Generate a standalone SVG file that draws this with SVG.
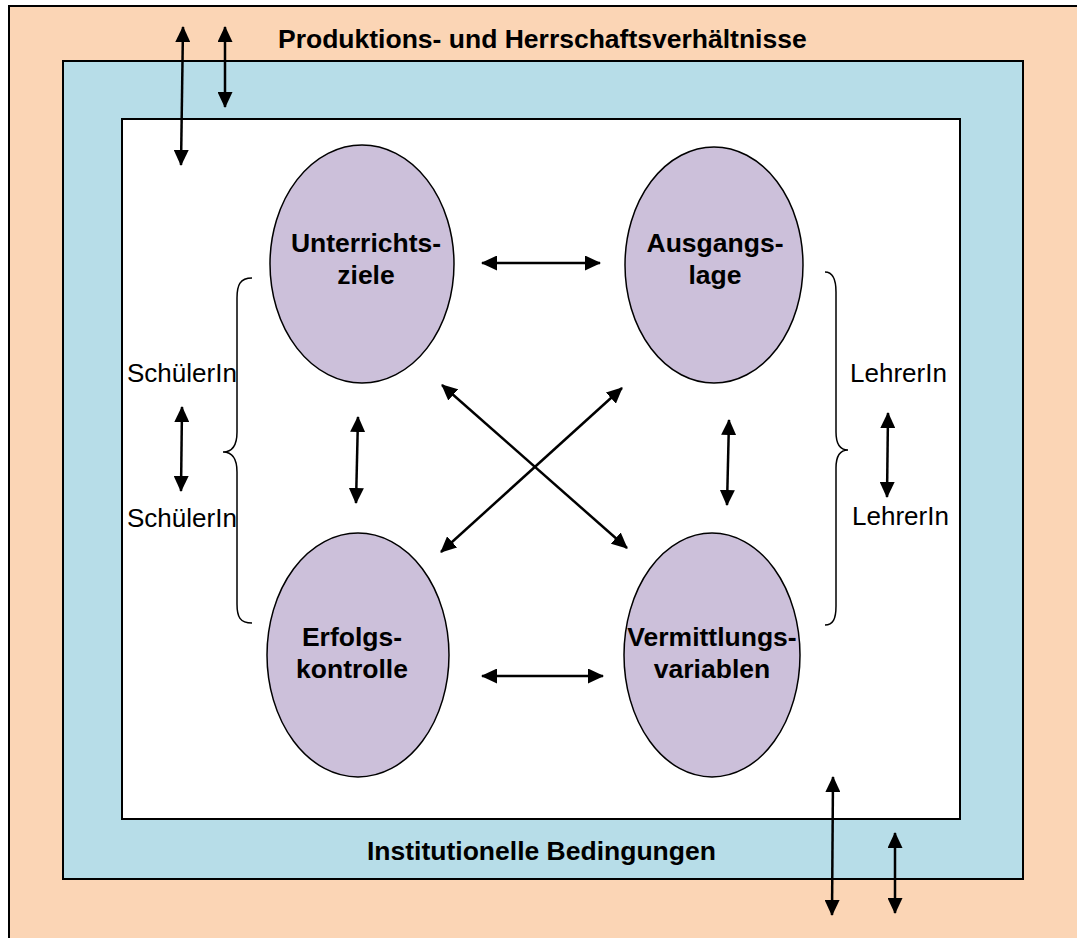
<svg xmlns="http://www.w3.org/2000/svg" width="1077" height="938" viewBox="0 0 1077 938">
<style>
.frame{stroke:#000;stroke-width:2}
.node{fill:#CCC0DA;stroke:#000;stroke-width:1.5}
.lbl{font-family:"Liberation Sans",Arial,sans-serif;font-size:26.5px;font-weight:bold;fill:#000;text-anchor:middle}
.side{font-family:"Liberation Sans",Arial,sans-serif;font-size:26px;fill:#000}
.band{font-family:"Liberation Sans",Arial,sans-serif;font-size:26.5px;font-weight:bold;fill:#000}
.conn{stroke:#000;stroke-width:2.5;fill:none;marker-start:url(#ah);marker-end:url(#ah)}
.brace{stroke:#000;stroke-width:1.5;fill:none}
</style>
<defs>
<marker id="ah" viewBox="0 0 16 15" refX="15" refY="7.5" markerWidth="16" markerHeight="15" markerUnits="userSpaceOnUse" orient="auto-start-reverse">
<path d="M0,0 L16,7.5 L0,15 z" fill="#000"/>
</marker>
</defs>
<g id="background">
<rect x="0" y="0" width="1077" height="938" fill="#fff"/>
<rect class="frame" x="9" y="6" width="1100" height="1000" fill="#FBD5B5"/>
<rect class="frame" x="63" y="61" width="960" height="818" fill="#B7DDE8"/>
<rect class="frame" x="122" y="119" width="838" height="700" fill="#fff"/>
<text class="band" x="278" y="48">Produktions- und Herrschaftsverhältnisse</text>
<text class="band" x="367" y="860">Institutionelle Bedingungen</text>
</g>
<g id="node-unterrichtsziele">
<ellipse class="node" cx="362" cy="264" rx="92" ry="119"/>
<text class="lbl" x="366" y="252">Unterrichts-</text>
<text class="lbl" x="366" y="284">ziele</text>
</g>
<g id="node-ausgangslage">
<ellipse class="node" cx="714" cy="265" rx="89" ry="118"/>
<text class="lbl" x="715" y="252">Ausgangs-</text>
<text class="lbl" x="715" y="284">lage</text>
</g>
<g id="node-erfolgskontrolle">
<ellipse class="node" cx="358" cy="655" rx="91" ry="122"/>
<text class="lbl" x="352" y="646">Erfolgs-</text>
<text class="lbl" x="352" y="678">kontrolle</text>
</g>
<g id="node-vermittlungsvariablen">
<ellipse class="node" cx="712" cy="655" rx="88" ry="122"/>
<text class="lbl" x="712" y="646">Vermittlungs-</text>
<text class="lbl" x="712" y="678">variablen</text>
</g>
<g id="side-labels">
<text class="side" x="127" y="382">SchülerIn</text>
<text class="side" x="127" y="527">SchülerIn</text>
<text class="side" x="850" y="382">LehrerIn</text>
<text class="side" x="852" y="525">LehrerIn</text>
<path class="brace" d="M252,278 C240,278 237,285 237,298 L237,432 C237,446 232,452 223,452 C232,452 237,458 237,472 L237,604 C237,617 240,623 252,623"/>
<path class="brace" d="M825,272 C833,272 836,279 836,292 L836,432 C836,444 840,450 848,450 C840,450 836,456 836,468 L836,606 C836,619 833,625 825,625"/>
</g>
<g id="connectors">
<line class="conn" x1="482" y1="263" x2="600" y2="263"/>
<line class="conn" x1="482" y1="676" x2="603" y2="676"/>
<line class="conn" x1="358" y1="417" x2="356" y2="503"/>
<line class="conn" x1="729" y1="420" x2="727" y2="505"/>
<line class="conn" x1="442" y1="385" x2="627" y2="548"/>
<line class="conn" x1="441" y1="552" x2="622" y2="388"/>
<line class="conn" x1="182" y1="407" x2="181" y2="491"/>
<line class="conn" x1="888" y1="413" x2="887" y2="497"/>
<line class="conn" x1="183" y1="27" x2="181" y2="165"/>
<line class="conn" x1="225" y1="27" x2="225" y2="107"/>
<line class="conn" x1="833" y1="777" x2="832" y2="915"/>
<line class="conn" x1="895" y1="833" x2="895" y2="913"/>
</g>
</svg>
